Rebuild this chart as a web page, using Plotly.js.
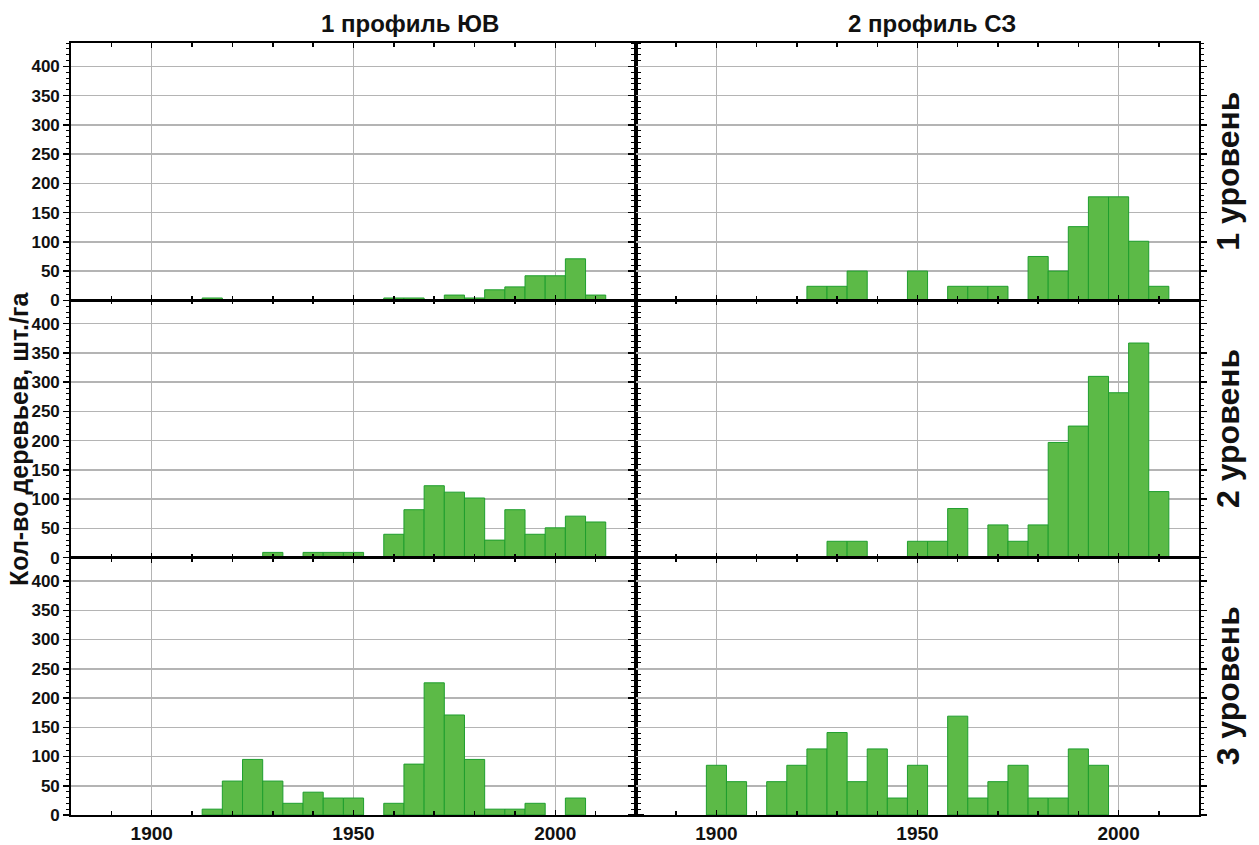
<!DOCTYPE html>
<html>
<head>
<meta charset="utf-8">
<script src="https://cdn.plot.ly/plotly-3.0.1.min.js"></script>
<style>html,body{margin:0;padding:0;background:#fff;}#chart{width:1259px;height:845px;}</style>
</head>
<body>
<div id="chart"></div>
<script>
// Column and row labels
const columnTitles = ["1 профиль ЮВ", "2 профиль СЗ"];
const rowTitles = ["1 уровень", "2 уровень", "3 уровень"];
const yAxisTitle = "Кол-во деревьев, шт./га";
const xTickVals = [1900, 1950, 2000];
const yTickVals = [0, 50, 100, 150, 200, 250, 300, 350, 400];

// Profile 1 (ЮВ), level 1
const p1l1Years = [1915, 1960, 1965, 1975, 1980, 1985, 1990, 1995, 2000, 2005, 2010];
const p1l1Values = [4, 4, 4, 9, 4, 18, 23, 42, 42, 71, 9];
// Profile 2 (СЗ), level 1
const p2l1Years = [1925, 1930, 1935, 1950, 1960, 1965, 1970, 1980, 1985, 1990, 1995, 2000, 2005, 2010];
const p2l1Values = [24, 24, 50, 50, 24, 24, 24, 75, 50, 126, 177, 177, 101, 24];
// Profile 1 (ЮВ), level 2
const p1l2Years = [1930, 1940, 1945, 1950, 1960, 1965, 1970, 1975, 1980, 1985, 1990, 1995, 2000, 2005, 2010];
const p1l2Values = [9, 9, 9, 9, 40, 82, 123, 112, 102, 30, 82, 40, 51, 71, 61];
// Profile 2 (СЗ), level 2
const p2l2Years = [1930, 1935, 1950, 1955, 1960, 1970, 1975, 1980, 1985, 1990, 1995, 2000, 2005, 2010];
const p2l2Values = [28, 28, 28, 28, 84, 56, 28, 56, 197, 225, 310, 282, 367, 113];
// Profile 1 (ЮВ), level 3
const p1l3Years = [1915, 1920, 1925, 1930, 1935, 1940, 1945, 1950, 1960, 1965, 1970, 1975, 1980, 1985, 1990, 1995, 2005];
const p1l3Values = [10, 58, 95, 58, 20, 39, 29, 29, 20, 87, 226, 171, 95, 10, 10, 20, 29];
// Profile 2 (СЗ), level 3
const p2l3Years = [1900, 1905, 1915, 1920, 1925, 1930, 1935, 1940, 1945, 1950, 1960, 1965, 1970, 1975, 1980, 1985, 1990, 1995];
const p2l3Values = [85, 57, 57, 85, 113, 141, 57, 113, 29, 85, 169, 29, 57, 85, 29, 29, 113, 85];

const panels = [
  [p1l1Years, p1l1Values], [p2l1Years, p2l1Values],
  [p1l2Years, p1l2Values], [p2l2Years, p2l2Values],
  [p1l3Years, p1l3Values], [p2l3Years, p2l3Values]
];

const FONT = "Liberation Sans, Arial, sans-serif";
const fillColor = "#5CBA47";
const edgeColor = "#1F9E2E";
const gridColor = "#B4B4B4";
const xTickFont = {family: FONT, size: 19, color: "#111", weight: "bold"};
const yTickFont = {family: FONT, size: 17, color: "#111", weight: "bold"};

const traces = panels.map((p, i) => ({
  type: "bar",
  x: p[0],
  y: p[1],
  width: 5,
  xaxis: "x" + (i + 1),
  yaxis: "y" + (i + 1),
  marker: {color: fillColor, line: {color: edgeColor, width: 1}},
  showlegend: false,
  hoverinfo: "x+y"
}));

const layout = {
  width: 1259, height: 845,
  margin: {l: 71, r: 60, t: 43, b: 30},
  paper_bgcolor: "#fff", plot_bgcolor: "#fff",
  bargap: 0,
  showlegend: false,
  annotations: [],
  font: {family: FONT}
};

const split = 565 / 1128;
const colDomains = [[0, split], [split, 1]];
const rowDomains = [[2/3, 1], [1/3, 2/3], [0, 1/3]];

for (let i = 0; i < 6; i++) {
  const row = Math.floor(i / 2), col = i % 2;
  const sfx = i === 0 ? "" : String(i + 1);
  layout["xaxis" + (i + 1)] = {
    domain: colDomains[col],
    anchor: "y" + sfx,
    range: [1880, 2020],
    tickmode: "array",
    tickvals: xTickVals,
    showticklabels: row === 2,
    tickfont: xTickFont,
    ticks: "inside", ticklen: 5, tickwidth: 1.5, tickcolor: "#000",
    minor: {dtick: 10, tick0: 1880, ticks: "inside", ticklen: 4, tickwidth: 1.5, tickcolor: "#000", showgrid: false},
    showgrid: true, gridcolor: gridColor, gridwidth: 1.5,
    showline: true, linecolor: "#000", linewidth: 1.8, mirror: "allticks",
    zeroline: false, fixedrange: true
  };
  layout["yaxis" + (i + 1)] = {
    domain: rowDomains[row],
    anchor: "x" + sfx,
    range: [0, 440],
    tickmode: "array",
    tickvals: yTickVals,
    showticklabels: col === 0,
    tickfont: yTickFont,
    ticks: "outside", ticklen: 6, tickwidth: 1.5, tickcolor: "#000",
    minor: {dtick: 10, tick0: 0, ticks: "outside", ticklen: 3, tickwidth: 1, tickcolor: "#000", showgrid: false},
    showgrid: true, gridcolor: gridColor, gridwidth: 1.5,
    showline: true, linecolor: "#000", linewidth: 1.8, mirror: "allticks",
    zeroline: false, fixedrange: true
  };
}

const titleX = [(410 - 71) / 1128, (932 - 71) / 1128];
columnTitles.forEach((t, c) => {
  layout.annotations.push({
    text: t, xref: "paper", yref: "paper",
    x: titleX[c], y: 1, yshift: 20,
    showarrow: false, xanchor: "center", yanchor: "middle",
    font: {family: FONT, size: 24, color: "#111", weight: "bold"}
  });
});
// Row titles
rowTitles.forEach((t, r) => {
  layout.annotations.push({
    text: t, xref: "paper", yref: "paper",
    x: 1, xshift: 29, y: (rowDomains[r][0] + rowDomains[r][1]) / 2,
    showarrow: false, textangle: -90, xanchor: "center", yanchor: "middle",
    font: {family: FONT, size: 32, color: "#111", weight: "bold"}
  });
});
// Y axis title
layout.annotations.push({
  text: yAxisTitle, xref: "paper", yref: "paper",
  x: 0, xshift: -52, y: 0.5, yshift: -10,
  showarrow: false, textangle: -90, xanchor: "center", yanchor: "middle",
  font: {family: FONT, size: 25, color: "#111", weight: "bold"}
});

Plotly.newPlot("chart", traces, layout, {displayModeBar: false, staticPlot: true});
</script>
</body>
</html>
